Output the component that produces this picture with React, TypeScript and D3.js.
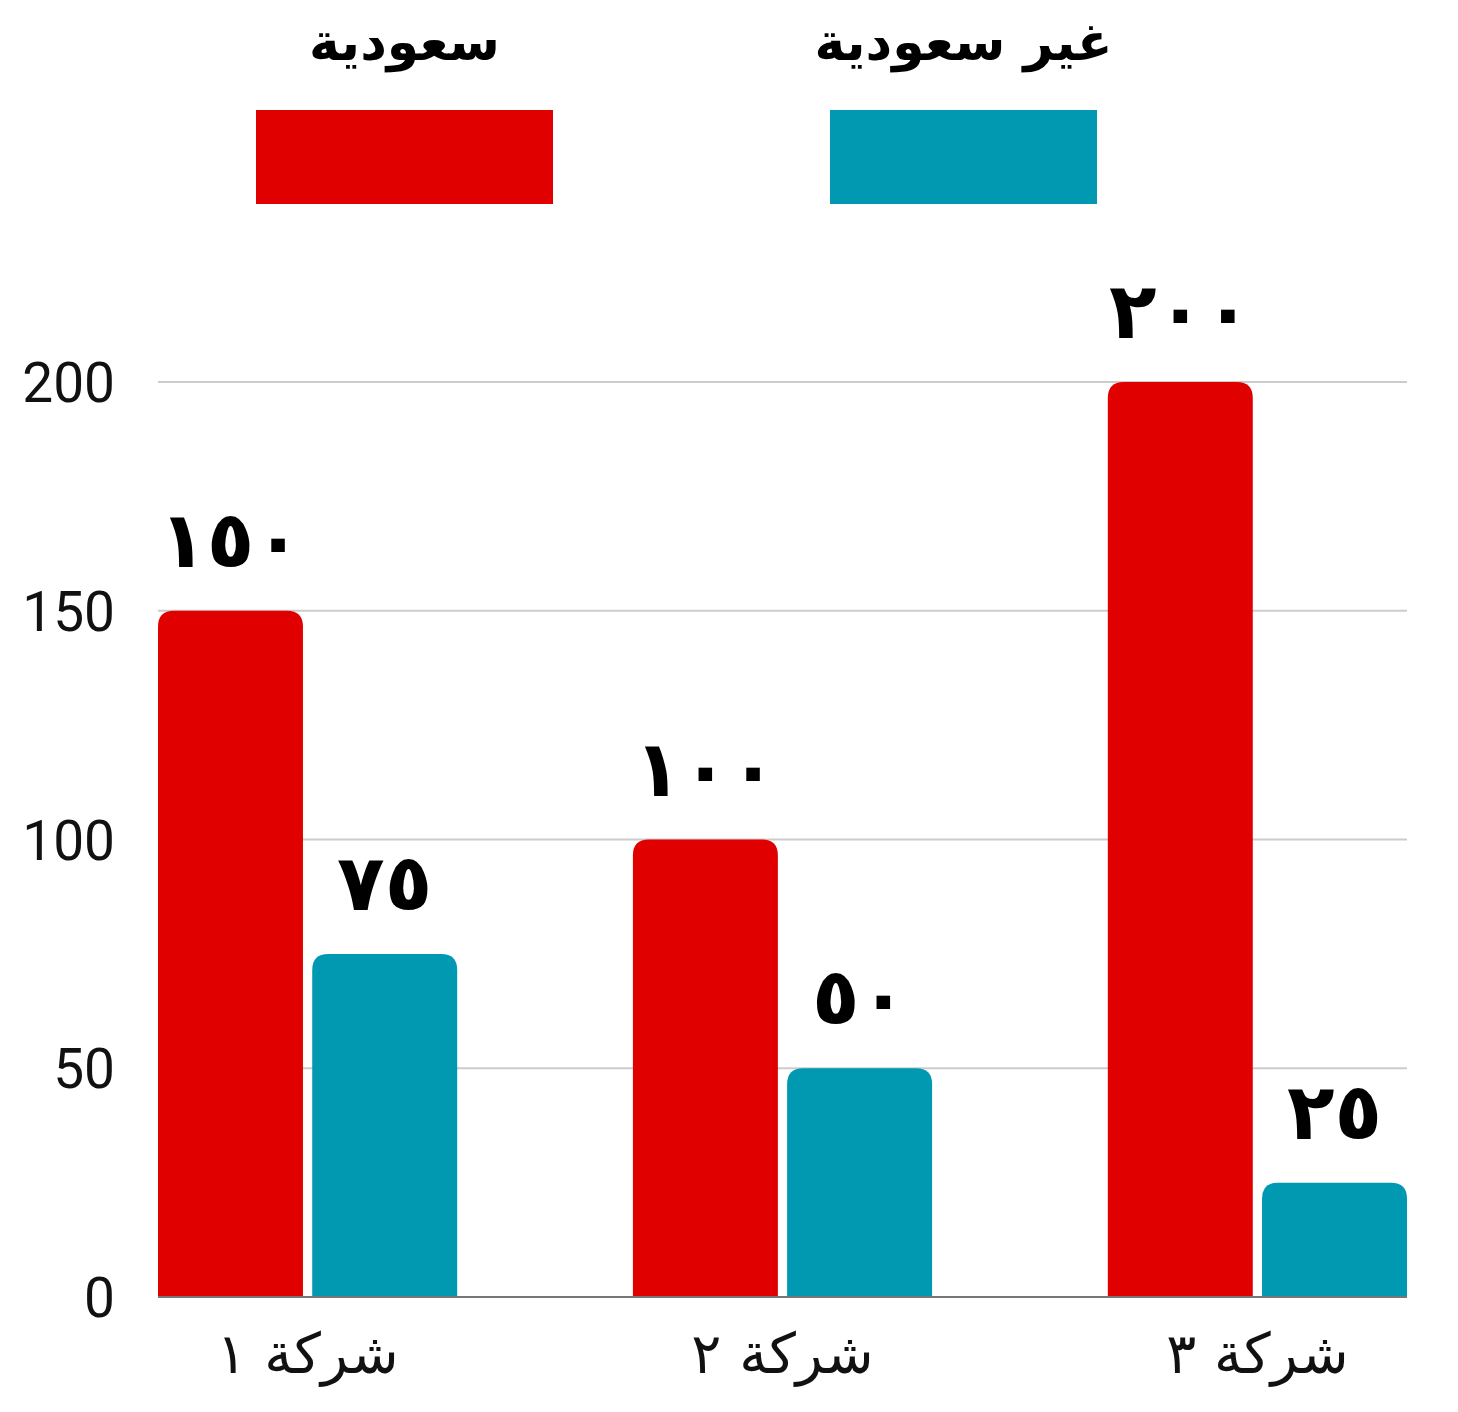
import { useMemo } from 'react'
import * as d3 from 'd3'

const categories = ['شركة ١', 'شركة ٢', 'شركة ٣']
const seriesNames = ['سعودية', 'غير سعودية']
const saudiValues = [150, 100, 200]
const nonSaudiValues = [75, 50, 25]
const yTicks = [0, 50, 100, 150, 200]

const colors = ['#e00000', '#0099b1']

const width = 1458
const height = 1412
const margin = { top: 382, right: 51, bottom: 115, left: 158 }

const arabicFont = '"DejaVu Sans", "Noto Sans", sans-serif'

function toArabicDigits(value: number): string {
  const digits = '٠١٢٣٤٥٦٧٨٩'
  return String(value).replace(/\d/g, (d) => digits[Number(d)])
}

function topRoundedBar(x: number, y: number, w: number, h: number, r: number): string {
  const rr = Math.min(r, w / 2, h)
  return `M${x},${y + h}V${y + rr}Q${x},${y} ${x + rr},${y}H${x + w - rr}Q${x + w},${y} ${x + w},${y + rr}V${y + h}Z`
}

export default function App() {
  const plot = useMemo(() => {
    const x0 = margin.left
    const x1 = width - margin.right
    const y0 = margin.top
    const y1 = height - margin.bottom

    const xScale = d3.scaleBand<string>().domain(categories).range([x0, x1]).paddingInner(0.37).paddingOuter(0)
    const subScale = d3.scaleBand<string>().domain(seriesNames).range([0, xScale.bandwidth()]).paddingInner(0.06)
    const yScale = d3.scaleLinear().domain([0, 200]).range([y1, y0])

    return { x0, x1, y0, y1, xScale, subScale, yScale }
  }, [])

  const series = [saudiValues, nonSaudiValues]
  const legendSwatches = [
    { left: 256, right: 553 },
    { left: 830, right: 1097 },
  ]

  return (
    <svg width={width} height={height} style={{ position: 'absolute', left: 0, top: 0, background: '#fff' }}>
      {/* legend */}
      {seriesNames.map((name, i) => {
        const sw = legendSwatches[i]
        const cx = (sw.left + sw.right) / 2
        return (
          <g key={name}>
            <text x={cx} y={60} textAnchor="middle" fontFamily={arabicFont} fontWeight="bold" fontSize={52} fill="#000">
              {name}
            </text>
            <rect x={sw.left} y={110} width={sw.right - sw.left} height={94} fill={colors[i]} />
          </g>
        )
      })}

      {/* grid */}
      {yTicks.map((t) => (
        <g key={t}>
          {t !== 0 && (
            <line x1={plot.x0} x2={plot.x1} y1={plot.yScale(t)} y2={plot.yScale(t)} stroke="#cccccc" strokeWidth={2} />
          )}
          <text
            x={115}
            y={plot.yScale(t) + 20}
            textAnchor="end"
            fontFamily="Roboto, sans-serif"
            fontSize={55}
            fill="#111"
          >
            {t}
          </text>
        </g>
      ))}

      {/* bars */}
      {categories.map((cat, ci) => {
        const gx = plot.xScale(cat) ?? 0
        return (
          <g key={cat}>
            {seriesNames.map((s, si) => {
              const v = series[si][ci]
              const bx = gx + (plot.subScale(s) ?? 0)
              const bw = plot.subScale.bandwidth()
              const by = plot.yScale(v)
              return (
                <g key={s}>
                  <path d={topRoundedBar(bx, by, bw, plot.y1 - by, 16)} fill={colors[si]} />
                  <text
                    x={bx + bw / 2}
                    y={by - 44}
                    textAnchor="middle"
                    fontFamily={arabicFont}
                    fontWeight="bold"
                    fontSize={78}
                    fill="#000"
                  >
                    {toArabicDigits(v)}
                  </text>
                </g>
              )
            })}
            <text
              x={gx + plot.xScale.bandwidth() / 2}
              y={plot.y1 + 76}
              textAnchor="middle"
              direction="rtl"
              fontFamily={arabicFont}
              fontSize={56}
              fill="#111"
            >
              {cat}
            </text>
          </g>
        )
      })}

      {/* baseline */}
      <line x1={plot.x0} x2={plot.x1} y1={plot.y1} y2={plot.y1} stroke="#777" strokeWidth={2} />
    </svg>
  )
}
